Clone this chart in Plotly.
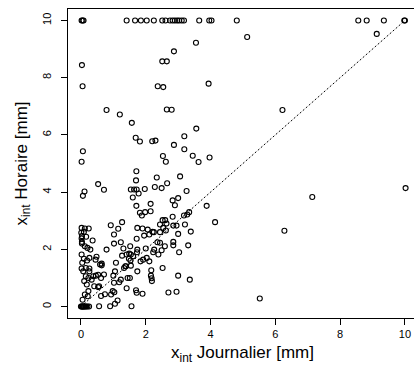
import plotly.graph_objects as go

# Top row (x_int Horaire = 10)
top_x = [0.02, 0.05, 0.08, 1.41, 1.67, 1.85, 2.03, 2.25, 2.51, 2.61, 2.75, 2.83, 2.90,
         2.97, 3.03, 3.11, 3.18, 3.65, 3.96, 4.03, 4.81, 8.56, 8.82, 9.35, 9.98, 10.0]
top_y = [10.0] * len(top_x)

# Upper / scattered points
up_x = [5.13, 9.13, 6.22, 3.55, 2.87, 2.51, 2.65, 0.03, 0.05, 2.37, 2.54, 3.94, 0.79, 1.20,
        2.65, 2.80, 1.57, 3.56, 1.69, 1.82, 2.20, 2.30, 3.19, 2.87, 3.19, 0.06, 0.02, 2.53,
        2.62, 3.45, 3.63, 3.97, 1.71, 1.70, 2.34, 3.06, 2.66, 0.53, 0.11, 0.06, 0.71, 1.54,
        1.64, 1.72, 1.78, 1.97, 2.28, 2.49, 3.26, 1.60, 2.15, 2.83, 3.00, 2.90, 1.71, 3.88,
        7.14, 10.02, 6.28, 5.52]
up_y = [9.42, 9.53, 6.87, 9.22, 8.92, 8.57, 8.57, 8.44, 7.70, 7.70, 7.67, 7.79, 6.87, 6.71,
        6.89, 6.88, 6.42, 6.22, 5.90, 5.77, 5.78, 5.80, 5.95, 5.65, 5.50, 5.43, 5.06, 5.26,
        5.06, 5.27, 5.05, 5.21, 4.73, 4.41, 4.51, 4.55, 4.31, 4.28, 4.02, 3.87, 4.08, 4.09,
        4.09, 4.09, 3.95, 4.11, 4.18, 4.14, 4.04, 3.81, 3.59, 3.71, 3.79, 3.54, 3.52, 3.52,
        3.83, 4.14, 2.65, 0.28]

# Lower dense cloud
low_x = [0.02, 0.12, 0.24, 0.01, 0.09, 0.03, 0.02, 0.03, 0.16, 0.36, 0.03, 0.12, 0.20, 0.29,
         0.02, 0.09, 0.19, 0.04, 0.15, 0.26, 0.02, 0.07, 0.26, 0.15, 0.23, 0.38, 0.46, 0.53,
         0.33, 0.10, 0.18, 0.41, 0.53, 0.23, 0.12, 0.05,
         0.00, 0.02, 0.04, 0.06, 0.08, 0.10, 0.13, 0.16, 0.20, 0.25, 0.56, 0.90, 1.05, 1.13, 1.56,
         0.74, 0.62, 1.03, 1.41, 1.70, 1.72, 1.90, 2.70, 2.95,
         1.00, 1.02, 1.18, 1.51, 1.74, 2.17, 2.16, 2.18, 2.19, 2.52, 3.00, 3.36,
         0.59, 0.64, 0.64, 0.71, 0.79, 0.45, 0.48, 1.05, 1.08,
         0.92, 1.15, 1.27, 1.74, 1.90, 2.06, 2.21, 2.11, 1.95, 1.02, 1.72, 1.02, 1.23, 1.31,
         1.52, 1.74,
         1.27, 1.41, 1.49, 1.54, 1.61, 1.48, 1.53, 1.37, 1.33, 1.54, 1.84, 1.92, 2.03, 2.11,
         2.23, 2.39, 2.49, 2.59, 2.36, 2.44, 2.85, 2.85, 3.03,
         2.44, 2.62, 2.25, 2.54, 2.44, 2.60, 2.64, 2.52, 2.85, 2.95, 2.83, 3.18, 3.28, 3.34,
         3.21, 3.39, 3.00, 3.31, 4.14,
         1.82, 1.98, 2.15, 1.88,
         0.26, 0.62, 0.21, 0.98, 0.93, 1.23, 1.44, 1.39, 0.56, 2.00, 2.26, 1.73]
low_y = [2.75, 2.73, 2.73, 2.58, 2.61, 2.46, 2.38, 2.26, 2.44, 2.31, 2.20, 2.11, 2.05, 1.99,
         1.82, 1.67, 1.61, 1.53, 1.35, 1.33, 1.33, 1.23, 1.23, 1.06, 1.00, 1.06, 1.08, 1.11,
         0.94, 0.89, 0.77, 0.71, 0.68, 0.54, 0.42, 0.24,
         0.00, 0.00, 0.00, 0.00, 0.00, 0.00, 0.00, 0.00, 0.00, 0.00, 0.01, 0.01, 0.10, 0.21, 0.01,
         0.43, 0.37, 0.50, 0.64, 0.57, 0.48, 0.45, 0.49, 0.52,
         1.08, 0.83, 0.85, 1.00, 1.23, 1.27, 1.08, 0.99, 0.89, 1.35, 1.08, 0.94,
         1.47, 1.50, 1.44, 1.12, 1.99, 1.64, 1.74, 1.23, 1.53,
         2.84, 2.72, 2.95, 2.75, 2.73, 2.69, 2.61, 2.52, 2.48, 2.52, 2.37, 2.20, 2.25, 2.03,
         2.11, 1.99,
         1.78, 1.82, 1.85, 1.82, 1.76, 1.67, 1.61, 1.41, 1.35, 1.43, 1.58, 1.64, 1.70, 1.58,
         1.90, 1.82, 1.97, 2.11, 2.25, 2.23, 2.26, 2.14, 1.90,
         2.60, 2.66, 2.60, 2.75, 2.87, 3.02, 2.90, 3.02, 2.83, 2.83, 3.14, 3.18, 3.22, 3.30,
         2.87, 2.62, 2.54, 2.14, 2.95,
         3.28, 3.30, 3.33, 3.18,
         1.70, 1.00, 0.36, 0.54, 0.42, 0.94, 1.00, 1.41, 0.71, 2.03, 1.99, 1.90]

xs = top_x + up_x + low_x
ys = top_y + up_y + low_y

line_x = [0, 10]
line_y = [0, 10]

x_ticks = [0, 2, 4, 6, 8, 10]
y_ticks = [0, 2, 4, 6, 8, 10]

FONT = "Liberation Sans, Arial, sans-serif"

fig = go.Figure()
fig.add_trace(go.Scatter(
    x=line_x, y=line_y, mode="lines",
    line=dict(color="black", width=1, dash="2px,2px"),
    hoverinfo="skip", showlegend=False))
fig.add_trace(go.Scatter(
    x=xs, y=ys, mode="markers",
    marker=dict(symbol="circle-open", size=5, color="black", line=dict(width=1.1, color="black")),
    showlegend=False))

fig.update_layout(
    width=414, height=365,
    margin=dict(l=68, r=0, t=9, b=47),
    paper_bgcolor="white", plot_bgcolor="white",
    font=dict(family=FONT, color="black", size=11),
    showlegend=False,
    xaxis=dict(
        range=[-0.4, 10.28], tickvals=x_ticks, ticktext=[str(v) for v in x_ticks],
        showgrid=False, zeroline=False, showline=True, mirror=True,
        linecolor="black", linewidth=1, ticks="outside", ticklen=6, tickwidth=1,
        tickcolor="black", tickfont=dict(size=11, family=FONT), automargin=False,
        ticklabelstandoff=0),
    yaxis=dict(
        range=[-0.4, 10.4], tickvals=y_ticks, ticktext=[str(v) for v in y_ticks],
        showgrid=False, zeroline=False, showline=True, mirror=False,
        linecolor="black", linewidth=1, ticks="outside", ticklen=6, tickwidth=1,
        tickcolor="black", tickangle=-90, tickfont=dict(size=11, family=FONT),
        automargin=False, ticklabelstandoff=6),
    annotations=[
        dict(text="x<sub>int</sub> Journalier [mm]", xref="x", yref="paper",
             x=5, y=0, yanchor="middle", xanchor="center", yshift=-36,
             showarrow=False, font=dict(size=17, family=FONT)),
        dict(text="x<sub>int</sub> Horaire [mm]", xref="paper", yref="y",
             x=0, y=5, xanchor="center", yanchor="middle", xshift=-46, textangle=-90,
             showarrow=False, font=dict(size=17, family=FONT)),
    ],
)

fig.write_html(
    "out.html",
    config={"displayModeBar": False},
    post_script="document.body.style.margin='0';document.body.style.overflow='hidden';",
)
